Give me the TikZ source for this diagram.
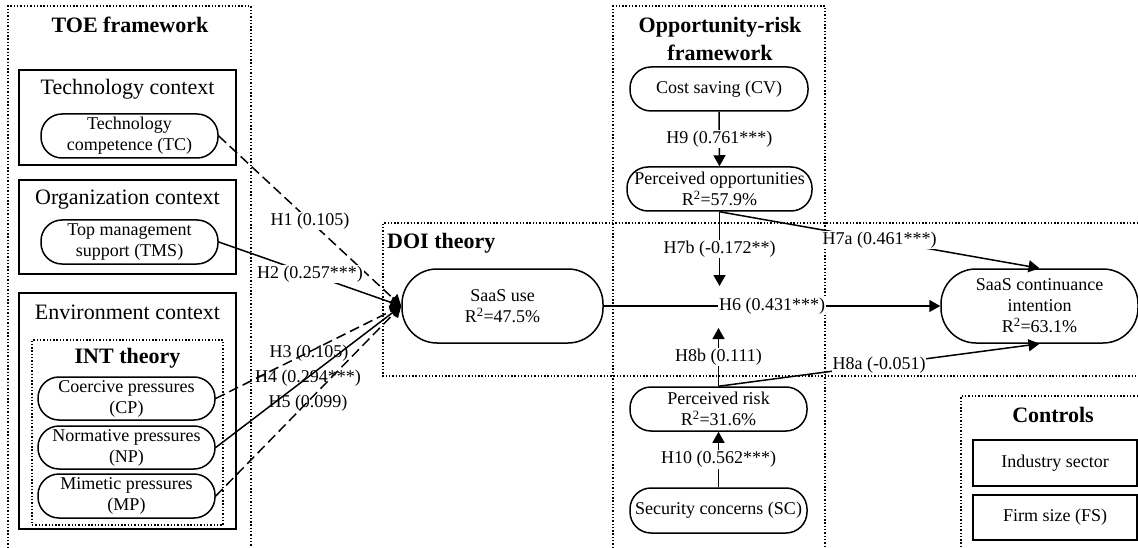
\documentclass[tikz,border=0pt]{standalone}
\usepackage{fontspec}
\setmainfont{Liberation Serif}
\usetikzlibrary{arrows.meta}
\tikzset{
  nodefont/.style={font=\fontsize{18}{21}\selectfont},
  var/.style={draw, line width=1.5pt, rounded corners=21pt, align=center, inner sep=0pt, nodefont},
  bigvar/.style={var, rounded corners=35pt},
  ctx/.style={draw, line width=1.6pt, inner sep=0pt},
  ctxlabel/.style={font=\fontsize{22}{26}\selectfont, inner sep=0pt},
  titlelabel/.style={font=\fontsize{22}{28}\selectfont\bfseries, align=center, inner sep=2pt},
  grp/.style={line width=1.4pt, dash pattern=on 1.4pt off 1.9pt},
  grpbox/.style={draw, grp, inner sep=0pt},
  elabel/.style={font=\fontsize{18}{21}\selectfont, inner sep=1pt},
  arr/.style={line width=1.5pt, -{Triangle[length=11pt,width=12pt]}},
  dsh/.style={dash pattern=on 10pt off 5pt}
}
\begin{document}
\begin{tikzpicture}[x=1pt,y=-1pt]
\useasboundingbox (0,0) rectangle (1138,548);
% group frames
\draw[grp] (8,548) -- (8,6) -- (251,6) -- (251,548);
\draw[grp] (613,548) -- (613,6) -- (825,6) -- (825,548);
\draw[grp] (1138,223) -- (383,223) -- (383,376) -- (1138,376);
\draw[grp] (1138,396) -- (961,396) -- (961,548);
% titles
\node[titlelabel] (toeT) at (130,25) {TOE framework};
\node[titlelabel] (orT) at (720,39) {Opportunity-risk\\framework};
\node[titlelabel, anchor=west] (doiT) at (385,243) {DOI theory};
\node[titlelabel] (ctrlT) at (1053,415) {Controls};
% context boxes
\node[ctx, minimum width=217pt, minimum height=95pt] (techBox) at (127.5,117.5) {};
\node[ctx, minimum width=217pt, minimum height=94pt] (orgBox) at (127.5,227) {};
\node[ctx, minimum width=217pt, minimum height=236pt] (envBox) at (127.5,411) {};
\node[grpbox, minimum width=191pt, minimum height=185pt] (intBox) at (127.5,432.5) {};
\node[ctxlabel] (techL) at (127.5,89) {Technology context};
\node[ctxlabel] (orgL) at (127.5,200) {Organization context};
\node[ctxlabel] (envL) at (127.5,312) {Environment context};
\node[titlelabel] (intT) at (127.5,358) {INT theory};
% variables
\node[var, minimum width=177pt, minimum height=44pt] (TC) at (129.5,136) {Technology\\competence (TC)};
\node[var, minimum width=177pt, minimum height=44pt] (TMS) at (129.5,242) {Top management\\support (TMS)};
\node[var, minimum width=177pt, minimum height=43pt] (CP) at (126.5,398.5) {Coercive pressures\\(CP)};
\node[var, minimum width=177pt, minimum height=43pt] (NP) at (126.5,447.5) {Normative pressures\\(NP)};
\node[var, minimum width=177pt, minimum height=44pt] (MP) at (126.5,496) {Mimetic pressures\\(MP)};
\node[bigvar, minimum width=201pt, minimum height=74pt] (saas) at (502.5,306) {SaaS use\\R\textsuperscript{2}=47.5\%};
\node[var, minimum width=178pt, minimum height=44pt] (CV) at (719,89) {Cost saving (CV)};
\node[var, minimum width=185pt, minimum height=44pt] (PO) at (719.5,189) {Perceived opportunities\\R\textsuperscript{2}=57.9\%};
\node[var, minimum width=177pt, minimum height=44pt] (PR) at (718.5,409) {Perceived risk\\R\textsuperscript{2}=31.6\%};
\node[var, minimum width=177pt, minimum height=45pt] (SC) at (718.5,510.5) {Security concerns (SC)};
\node[bigvar, minimum width=197pt, minimum height=74pt] (cont) at (1039.5,306) {SaaS continuance\\intention\\R\textsuperscript{2}=63.1\%};
% controls
\node[ctx, minimum width=164pt, minimum height=46pt, nodefont] (ind) at (1055,463) {Industry sector};
\node[ctx, minimum width=164pt, minimum height=45pt, nodefont] (fs) at (1055,517.5) {Firm size (FS)};
% left connectors
\draw[arr, dsh] (TC.east) -- node[elabel, fill=white] (h1) {H1 (0.105)} (saas.west);
\draw[arr] (TMS.east) -- node[elabel, fill=white] (h2) {H2 (0.257***)} (saas.west);
\draw[arr, dsh] (CP.east) -- (saas.west);
\draw[arr] (NP.east) -- (saas.west);
\draw[arr, dsh] (MP.east) -- (saas.west);
\node[elabel] (h3) at (309,353) {H3 (0.105)};
\node[elabel] (h4) at (308,378) {H4 (0.294***)};
\node[elabel] (h5) at (308,403) {H5 (0.099)};
% right connectors
\coordinate (t7b) at (719.5,286);
\coordinate (t8b) at (718.5,328);
\draw[arr] (CV.south) -- node[elabel, fill=white] (h9) {H9 (0.761***)} (PO.north);
\draw[arr] (PO.south) -- node[elabel, fill=white] (h7b) {H7b (-0.172**)} (t7b);
\draw[arr] (PR.north) -- node[elabel, fill=white] (h8b) {H8b (0.111)} (t8b);
\draw[arr] (saas.east) -- node[elabel, fill=white] (h6) {H6 (0.431***)} (cont.west);
\draw[arr] (PO.south) -- node[elabel, fill=white] (h7a) {H7a (0.461***)} (cont.north);
\draw[arr] (PR.north) -- node[elabel, fill=white] (h8a) {H8a (-0.051)} (cont.south);
\draw[arr] (SC.north) -- node[elabel, fill=white] (h10) {H10 (0.562***)} (PR.south);
\end{tikzpicture}
\end{document}
